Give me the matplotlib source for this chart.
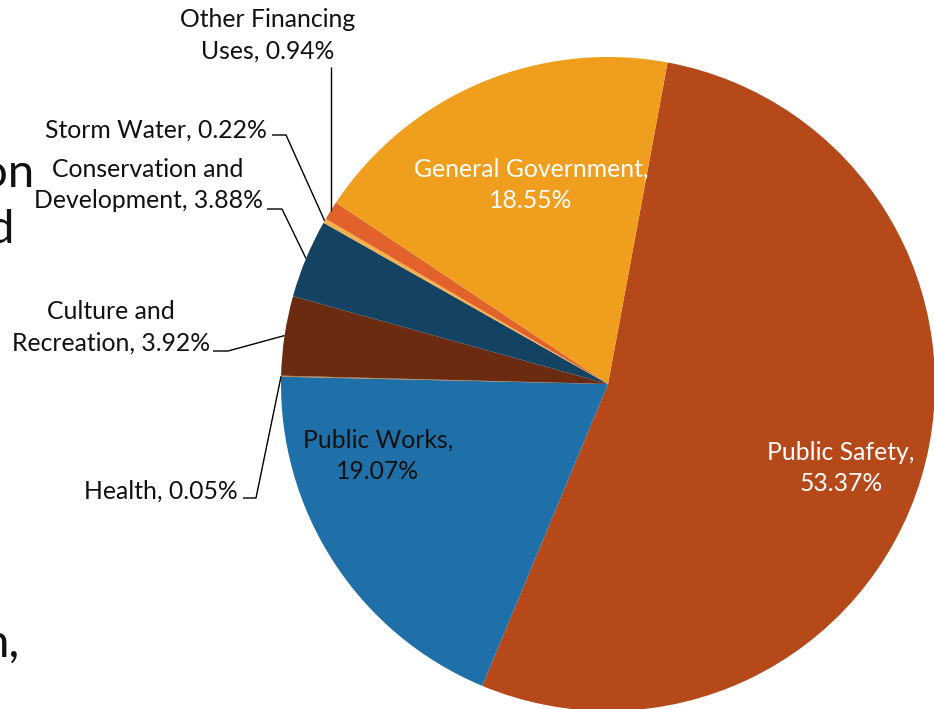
import numpy as np
import matplotlib
matplotlib.use("Agg")
import matplotlib.pyplot as plt

# Expenditure shares by function (percent), in clockwise order
categories = ["Public Safety", "Public Works", "Health", "Culture and Recreation",
              "Conservation and Development", "Storm Water",
              "Other Financing Uses", "General Government"]
shares = [53.37, 19.07, 0.05, 3.92, 3.88, 0.22, 0.94, 18.55]
colors = ["#B5491A", "#1F6FA8", "#B87A3A", "#6A2B10",
          "#134263", "#F5B04A", "#E2622B", "#F09E1E"]

W, H = 934, 709
FONT = "Lato"

fig = plt.figure(figsize=(W / 100, H / 100), dpi=100)
ax = fig.add_axes([0, 0, 1, 1])

cx, cy, R = 608, H - 384, 327
start = 79.5
wedges, _ = ax.pie(shares, colors=colors, startangle=start, counterclock=False,
                   radius=R, center=(cx, cy),
                   wedgeprops=dict(linewidth=0, antialiased=True))
ax.set_xlim(0, W)
ax.set_ylim(0, H)
ax.set_aspect("equal")
ax.axis("off")


def py(y):
    return H - y


def anchor(i):
    w = wedges[i]
    mid = np.deg2rad((w.theta1 + w.theta2) / 2)
    return cx + R * np.cos(mid), cy + R * np.sin(mid)


fs = 17.8
tkw = dict(fontsize=fs, family=FONT, color="#111111", linespacing=1.45)

# Labels inside the large slices
ax.text(531, py(185), "General Government,\n18.55%", ha="center", va="center",
        **{**tkw, "color": "white"})
ax.text(378, py(456), "Public Works,\n19.07%", ha="center", va="center", **tkw)
ax.text(841, py(468), "Public Safety,\n53.37%", ha="center", va="center",
        **{**tkw, "color": "white"})

# Outside labels with leader lines
lk = dict(color="black", lw=1.0, solid_capstyle="butt")

ax.text(268, py(35), "Other Financing\nUses, 0.94%", ha="center", va="center", **tkw)
ax_, ay_ = anchor(6)
ax.plot([ax_, ax_], [py(67), ay_], **lk)

ax.text(267, py(130), "Storm Water, 0.22%", ha="right", va="center", **tkw)
ax_, ay_ = anchor(5)
ax.plot([272, 286, ax_], [py(135), py(135), ay_], **lk)

ax.text(148, py(185), "Conservation and\nDevelopment, 3.88%", ha="center", va="center", **tkw)
ax_, ay_ = anchor(4)
ax.plot([267, 282, ax_], [py(209), py(209), ay_], **lk)

ax.text(111, py(327), "Culture and\nRecreation, 3.92%", ha="center", va="center", **tkw)
ax_, ay_ = anchor(3)
ax.plot([213, 228, ax_], [py(351), py(351), ay_], **lk)

ax.text(238, py(491), "Health, 0.05%", ha="right", va="center", **tkw)
ax_, ay_ = anchor(2)
ax.plot([243, 256, ax_], [py(498), py(498), ay_], **lk)

# Slide body text running off the left edge
big = dict(fontsize=34, family=FONT, color="#111111", ha="right", va="baseline")
ax.text(34, py(187), "on", **big)
ax.text(14, py(243), "d", **big)
ax.text(20, py(657), "n,", **big)

fig.savefig("out.png", dpi=100)
